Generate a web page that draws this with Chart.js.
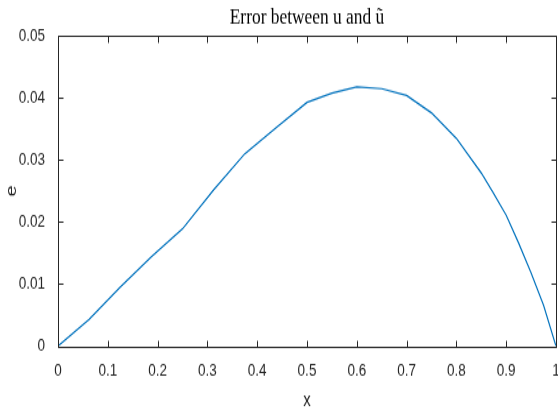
<!DOCTYPE html>
<html>
<head>
<meta charset="utf-8">
<script src="https://cdn.jsdelivr.net/npm/chart.js@4/dist/chart.umd.min.js"></script>
<style>
  html, body { margin: 0; padding: 0; background: #fff; }
</style>
</head>
<body>
<!-- the plot is drawn short and stretched tall -->
<canvas id="errChart" width="558" height="311" style="display:block;width:558px;height:410px"></canvas>
<script>
// sample points of the error curve
const xValues = [0, 0.0625, 0.125, 0.1875, 0.25, 0.3125, 0.375, 0.4375, 0.5,
  0.55, 0.6, 0.65, 0.7, 0.75, 0.8, 0.85, 0.875, 0.9, 0.925, 0.95, 0.975, 1];
const errValues = [0, 0.0043, 0.0095, 0.0144, 0.0189, 0.0252, 0.0310, 0.0352, 0.0393,
  0.0408, 0.0418, 0.0415, 0.0404, 0.0376, 0.0335, 0.0279, 0.0246, 0.0211, 0.0166, 0.0118, 0.0066, 0];

const xTickLabels = ['0', '0.1', '0.2', '0.3', '0.4', '0.5', '0.6', '0.7', '0.8', '0.9', '1'];
const yTickLabels = ['0', '0.01', '0.02', '0.03', '0.04', '0.05'];

const axisColor = '#262626';
const sansFamily = '"Liberation Sans", Arial, Helvetica, sans-serif';
const serifFamily = '"Liberation Serif", "Times New Roman", serif';
const tickLen = 5;

// box around the axes with inward ticks on all four sides
const axesBox = {
  id: 'axesBox',
  afterDraw(chart) {
    const { ctx, chartArea: a, scales } = chart;
    const left = Math.round(a.left) + 0.5;
    const right = Math.round(a.right) + 0.5;
    const top = Math.round(a.top) + 0.5;
    const bottom = Math.round(a.bottom) + 0.5;
    ctx.save();
    ctx.strokeStyle = axisColor;
    ctx.lineWidth = 1;
    ctx.beginPath();
    ctx.rect(left, top, right - left, bottom - top);
    scales.x.ticks.forEach(t => {
      const px = Math.round(scales.x.getPixelForValue(t.value)) + 0.5;
      ctx.moveTo(px, bottom); ctx.lineTo(px, bottom - tickLen);
      ctx.moveTo(px, top); ctx.lineTo(px, top + tickLen);
    });
    scales.y.ticks.forEach(t => {
      const py = Math.round(scales.y.getPixelForValue(t.value)) + 0.5;
      ctx.moveTo(left, py); ctx.lineTo(left + tickLen, py);
      ctx.moveTo(right, py); ctx.lineTo(right - tickLen, py);
    });
    ctx.stroke();
    ctx.restore();
  }
};

const points = xValues.map((x, i) => ({ x: x, y: errValues[i] }));

new Chart(document.getElementById('errChart'), {
  type: 'line',
  data: {
    datasets: [{
      data: points,
      borderColor: '#0072BD',
      borderWidth: 1.2,
      pointRadius: 0,
      tension: 0,
      fill: false
    }]
  },
  options: {
    responsive: false,
    devicePixelRatio: 1,
    animation: false,
    events: [],
    layout: { padding: { left: 0, right: 2, top: 0, bottom: 0 } },
    plugins: {
      legend: { display: false },
      tooltip: { enabled: false },
      title: {
        display: true,
        text: 'Error between u and ũ',
        fullSize: false,
        color: '#000',
        font: { family: serifFamily, size: 17.4, weight: 'normal', lineHeight: 1.2 },
        padding: { top: 2.5, bottom: 3.9 }
      }
    },
    scales: {
      x: {
        type: 'linear',
        min: 0,
        max: 1,
        grid: { display: false },
        border: { display: false },
        ticks: {
          stepSize: 0.1,
          padding: 2.5,
          maxRotation: 0,
          autoSkip: false,
          color: axisColor,
          font: { family: sansFamily, size: 13.5 },
          callback: (value, index) => xTickLabels[index]
        },
        title: {
          display: true,
          text: 'x',
          color: axisColor,
          font: { family: sansFamily, size: 15, lineHeight: 1 },
          padding: { top: 0, bottom: 0 }
        },
        afterFit(scale) {
          scale.height = 48.5;
          scale.paddingLeft = 0;
          scale.paddingRight = 0;
        }
      },
      y: {
        type: 'linear',
        min: 0,
        max: 0.05,
        grid: { display: false },
        border: { display: false },
        ticks: {
          stepSize: 0.01,
          padding: 5,
          color: axisColor,
          font: { family: sansFamily, size: 13.5 },
          callback: (value, index) => yTickLabels[index]
        },
        title: {
          display: true,
          text: 'e',
          color: axisColor,
          font: { family: sansFamily, size: 15, lineHeight: 1 },
          padding: { top: 4, bottom: 0 }
        },
        afterFit(scale) {
          scale.width = 58;
          scale.paddingTop = 0;
          scale.paddingBottom = 0;
        }
      }
    }
  },
  plugins: [axesBox]
});
</script>
</body>
</html>
